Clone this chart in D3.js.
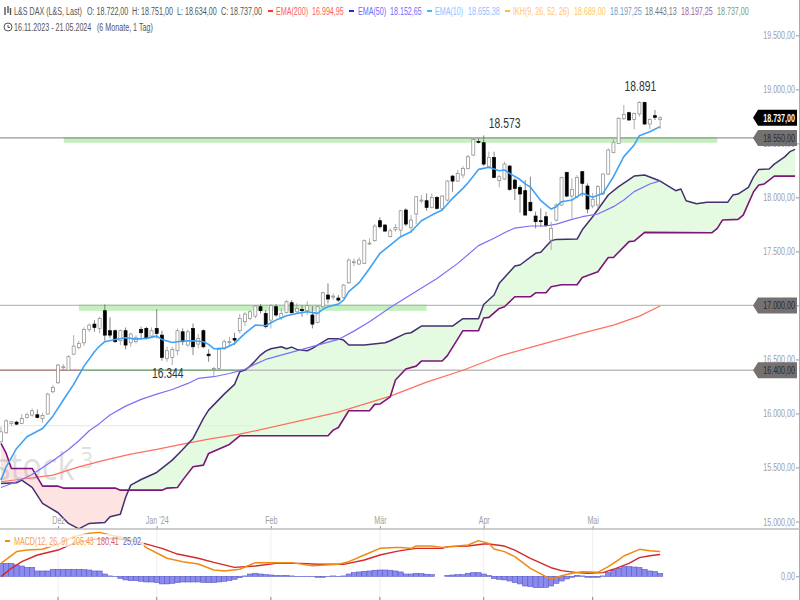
<!DOCTYPE html>
<html>
<head>
<meta charset="utf-8">
<script src="https://cdnjs.cloudflare.com/ajax/libs/d3/7.8.5/d3.min.js"></script>
<style>
    html, body { margin: 0; padding: 0; background: #fff; }
    svg { display: block; }
    text { font-family: "Liberation Sans", Arial, sans-serif; }
</style>
</head>
<body>
<svg id="chart"></svg>
<script>
// daily candles, bar 0 = 16.11.2023, bar 127 = 21.05.2024
const opens = [
    15738,15821,15908,15920,15908,15963,15985,15988,15954,15994,
    16201,16284,16426,16401,16549,16611,16654,16778,16827,16787,
    16951,16766,16766,16673,16766,16654,16664,16778,16787,16716,
    16787,16725,16509,16519,16580,16756,16633,16787,16642,16766,
    16549,16407,16417,16602,16658,16695,16766,16849,16880,16901,
    16988,16926,16864,16988,16889,16935,17025,16941,16963,16951,
    16911,16843,16988,17096,17083,17068,17074,17210,17398,17383,
    17389,17571,17599,17784,17744,17636,17704,17697,17883,17722,
    17846,17969,17969,17907,18000,17898,17975,18197,18151,18207,
    18268,18392,18518,18506,18284,18370,18154,18170,18290,18160,
    18092,18062,17954,17827,17784,17821,17605,17790,17929,18229,
    18012,18006,18238,18105,17920,17929,18031,18216,18414,18500,
    18728,18784,18722,18772,18877,18679,18756,18722];
const closes = [
    15830,15932,15923,15901,15954,15988,16025,15963,15982,16179,
    16241,16448,16432,16525,16624,16648,16778,16818,16796,16880,
    16725,16725,16664,16766,16633,16735,16701,16747,16695,16766,
    16741,16519,16580,16593,16766,16664,16756,16617,16695,16617,
    16534,16417,16593,16664,16664,16679,16880,16920,16941,16994,
    16951,16803,16997,16911,16926,17034,16932,16972,16951,16997,
    16827,16988,17117,17059,17086,17049,17188,17420,17404,17420,
    17599,17577,17734,17728,17688,17691,17722,17876,17753,17790,
    18006,17975,17907,18000,17898,18012,18151,18151,18222,18268,
    18376,18537,18512,18308,18370,18185,18191,18308,18074,18083,
    18031,17836,17877,17775,17775,17744,17713,17929,18185,18012,
    18074,18185,18130,17892,17982,18099,18216,18438,18506,18732,
    18769,18716,18778,18880,18679,18722,18741,18737];
const highs = [
    15877,15945,15932,15932,15994,16006,16046,16037,16006,16192,
    16262,16457,16457,16540,16725,16673,16796,16833,16864,16895,
    17009,16889,16778,16778,16796,16747,16725,16803,16803,16796,
    16966,16766,16617,16617,16787,16787,16778,16833,16735,16778,
    16593,16432,16611,16685,16710,16747,16920,16941,16957,17003,
    17012,16957,17012,17012,16972,17049,17049,17019,17003,17040,
    16994,17003,17127,17204,17111,17096,17198,17435,17435,17444,
    17611,17620,17753,17815,17753,17713,17753,17883,17898,17836,
    18012,18021,18037,18037,18012,18021,18160,18207,18253,18290,
    18392,18546,18546,18573,18423,18423,18207,18330,18299,18176,
    18114,18160,18191,17867,17898,17867,17775,17945,18191,18238,
    18176,18207,18244,18130,18040,18114,18222,18454,18537,18741,
    18855,18793,18784,18891,18886,18732,18809,18751];
const lows = [
    15730,15815,15883,15892,15901,15954,15969,15954,15914,15990,
    16185,16272,16401,16395,16540,16593,16624,16756,16756,16741,
    16673,16695,16654,16633,16593,16617,16648,16695,16685,16704,
    16695,16488,16479,16448,16540,16633,16617,16540,16602,16602,
    16479,16344,16407,16587,16617,16633,16741,16809,16864,16880,
    16926,16787,16787,16895,16864,16926,16926,16926,16895,16911,
    16787,16833,16972,17019,17049,17034,17065,17198,17364,17373,
    17383,17559,17589,17713,17682,17630,17682,17630,17734,17673,
    17753,17944,17876,17898,17889,17876,17960,18052,18145,18176,
    18259,18382,18500,18290,18268,18176,18092,18160,18062,17975,
    17858,17836,17867,17713,17729,17729,17513,17775,17920,18000,
    17806,17991,18006,17852,17900,17898,18022,18207,18407,18494,
    18716,18710,18630,18747,18670,18630,18716,18634];

// indicators as [bar, value]
const ema10 = [[0,15383],[1,15506],[3,15676],[5,15784],[8,15861],[10,15975],[12,16124],[14,16269],[16,16438],[18,16571],
    [19,16624],[20,16664],[22,16685],[24,16701],[26,16688],[28,16695],[30,16716],[31,16685],[33,16657],[35,16670],
    [37,16673],[39,16664],[40,16639],[41,16599],[43,16602],[45,16648],[47,16741],[49,16818],[51,16812],[52,16840],
    [53,16864],[55,16904],[57,16926],[59,16941],[61,16926],[62,16963],[63,16988],[65,17012],[66,17049],[67,17127],
    [69,17210],[71,17342],[73,17481],[75,17559],[77,17636],[79,17682],[81,17784],[83,17836],[85,17883],[87,17991],
    [89,18083],[90,18136],[92,18259],[93,18268],[94,18278],[95,18262],[96,18247],[97,18253],[98,18222],[100,18165],
    [101,18125],[102,18095],[104,17969],[106,17892],[107,17914],[108,17960],[110,17975],[112,18037],[114,18000],
    [116,18037],[118,18191],[120,18377],[122,18485],[123,18571],[125,18608],[127,18655]];
const ema50 = [[0,15315],[3,15368],[6,15435],[10,15562],[13,15667],[15,15747],[17,15840],[19,15908],[21,15985],[24,16068],
    [27,16130],[30,16179],[33,16222],[36,16278],[38,16324],[41,16340],[44,16370],[47,16408],[49,16457],[51,16500],
    [65,16685],[68,16762],[71,16849],[75,16981],[78,17071],[84,17250],[88,17389],[92,17553],[95,17621],[97,17673],
    [99,17716],[102,17735],[105,17735],[107,17753],[110,17796],[112,17821],[115,17846],[118,17914],[120,17975],
    [122,18053],[125,18124],[127,18153]];
const ema200 = [[0,15368],[5,15398],[10,15429],[15,15506],[20,15568],[25,15624],[30,15667],[35,15716],[40,15763],[46,15809],
    [52,15871],[65,16012],[75,16160],[82,16290],[89,16400],[96,16530],[105,16651],[112,16744],[118,16818],[123,16901],[127,16995]];
const senkouA = [[0,15352],[3,15358],[4,15383],[6,15315],[8,15167],[11,15081],[13,14982],[15,14932],[17,14982],[20,14991],
    [21,15044],[23,15068],[24,15222],[25,15337],[27,15389],[30,15454],[33,15568],[35,15667],[37,15769],[39,15954],
    [40,16031],[43,16179],[45,16269],[46,16386],[47,16401],[48,16438],[49,16488],[50,16540],[51,16577],[52,16599],
    [54,16617],[55,16599],[56,16614],[57,16593],[59,16580],[60,16602],[61,16633],[63,16691],[65,16691],[66,16679],
    [67,16633],[70,16633],[74,16654],[75,16673],[78,16741],[79,16747],[81,16809],[87,16809],[89,16877],[92,16877],
    [93,17009],[95,17096],[96,17204],[99,17364],[100,17374],[103,17482],[104,17491],[106,17599],[107,17611],[111,17614],
    [112,17700],[114,17821],[117,18022],[119,18099],[122,18197],[124,18207],[127,18151],[130,18062],[131,18077],
    [132,17969],[134,17941],[136,17954],[140,17954],[141,18021],[142,18031],[144,18092],[145,18190],[146,18259],
    [148,18262],[149,18308],[151,18375],[152,18423],[153,18444]];
const senkouB = [[0,15722],[1,15630],[2,15491],[6,15491],[8,15327],[11,15327],[12,15309],[22,15309],[23,15290],[31,15290],
    [32,15309],[34,15315],[35,15383],[37,15506],[39,15522],[40,15630],[41,15651],[44,15713],[46,15793],[63,15793],
    [64,15846],[65,15870],[67,16025],[71,16025],[72,16084],[73,16087],[75,16154],[76,16309],[78,16411],[80,16438],
    [81,16485],[85,16485],[86,16535],[89,16766],[92,16766],[93,16883],[94,16889],[96,16972],[97,16988],[99,17080],
    [102,17080],[103,17117],[105,17117],[106,17173],[108,17191],[111,17191],[112,17259],[115,17312],[117,17444],
    [118,17444],[121,17590],[122,17596],[124,17676],[137,17673],[138,17713],[139,17790],[142,17796],[143,17836],
    [144,17944],[145,18052],[146,18114],[147,18123],[149,18197],[153,18197]];
const cloudCross = 24.6;

const macdLine = [[0,107],[3,204],[5,217],[8,223],[11,267],[14,328],[17,355],[19,363],[21,341],[26,300],[28,237],[32,149],
    [35,121],[38,102],[41,52],[43,44],[46,58],[49,113],[53,113],[56,113],[60,88],[65,99],[67,121],[70,176],[73,231],[76,237],
    [77,239],[79,231],[80,250],[83,250],[85,239],[90,259],[92,295],[94,272],[95,226],[97,204],[99,162],[102,66],[105,-3],
    [106,-25],[108,5],[110,25],[112,38],[115,33],[117,80],[119,135],[120,168],[123,223],[125,212],[127,205]];
const signalLine = [[0,-3],[2,66],[4,121],[7,176],[11,217],[14,272],[18,306],[22,314],[27,278],[31,231],[34,184],[38,149],
    [41,115],[45,74],[49,85],[53,107],[58,107],[61,99],[66,99],[70,135],[73,176],[76,204],[77,212],[80,231],[85,231],[86,245],
    [90,250],[93,267],[94,267],[97,250],[99,217],[102,149],[106,71],[108,47],[111,30],[113,25],[116,30],[118,58],[121,107],
    [123,154],[125,170],[127,180]];
const macdHist = [107,107,107,94,85,74,74,44,44,44,58,58,58,58,58,58,55,52,44,44,
    19,3,-3,-17,-30,-36,-36,-41,-47,-47,-52,-63,-63,-58,-52,-47,-47,-47,-47,-50,
    -52,-52,-47,-41,-36,-25,-11,3,19,25,19,14,11,8,6,8,3,-3,-3,-3,
    -3,-8,-8,-3,3,-3,3,19,30,36,41,44,50,52,52,50,44,36,19,19,
    25,22,17,14,0,0,8,11,14,14,25,30,30,19,6,-19,-25,-30,-39,-52,
    -63,-80,-85,-94,-94,-91,-80,-58,-39,-22,-8,8,3,-8,-8,-8,3,30,52,66,
    80,80,77,74,58,44,39,25];

const priceTicks = [15000,15500,16000,16500,17000,17500,18000,18500,19000,19500];
const monthBars = [11,30,52,73,93,114];
const monthNames = ["Dez","Jan '24","Feb","Mär","Apr","Mai"];
const levels = [18550,17000,16400];
const lastPrice = 18737;
const peakBars = [41,93,123];
const peakVals = [16344,18573,18891];

const width = 800, height = 600;
const dim = { mainBottom: 529, lastBar: 153 };
const squeezeX = 0.65; // the reference text is condensed horizontally

const deFormat = d3.formatLocale({ decimal: ",", thousands: ".", grouping: [3], currency: ["", ""] });
const fmtPrice = deFormat.format(",.2f");
const fmtPeak = deFormat.format(",.0f");

const x = d3.scaleLinear().domain([0, dim.lastBar]).range([1, 795.1]);
const y = d3.scaleLinear().domain([15000, 19500]).range([521.5, 35.3]);
const yMacd = d3.scaleLinear().domain([0, 300]).range([576.3, 540]);
const step = x(1) - x(0);

const svg = d3.select("#chart").attr("width", width).attr("height", height);

function squeeze(sel, sx) {
    const s = sx || squeezeX;
    sel.each(function() {
        const t = d3.select(this);
        t.attr("x", (+t.attr("x") || 0) / s).attr("transform", "scale(" + s + ",1)");
    });
    return sel;
}

const defs = svg.append("defs");
defs.append("clipPath").attr("id", "mainClip")
    .append("rect").attr("width", width).attr("height", dim.mainBottom);
defs.append("clipPath").attr("id", "cloudRed").append("rect")
    .attr("width", x(cloudCross)).attr("height", dim.mainBottom);
defs.append("clipPath").attr("id", "cloudGreen").append("rect")
    .attr("x", x(cloudCross)).attr("width", width).attr("height", dim.mainBottom);

const main = svg.append("g").attr("clip-path", "url(#mainClip)");

// support bands under the levels
function band(fromBar, toBar, top, bottom, color) {
    main.append("rect")
        .attr("x", x(fromBar)).attr("width", x(toBar) - x(fromBar))
        .attr("y", y(top)).attr("height", y(bottom) - y(top))
        .attr("fill", color);
}
band(12.1, 138, 18550, 18505, "#c6efc0");
band(15, 82, 17000, 16950, "#c6efc0");

// cloud
const lineGen = d3.line().x(d => x(d[0])).y(d => y(d[1]));
const cloudOutline = lineGen(senkouA.concat(senkouB.slice().reverse())) + "Z";
main.append("path").attr("d", cloudOutline).attr("fill", "#fde3e1").attr("clip-path", "url(#cloudRed)");
main.append("path").attr("d", cloudOutline).attr("fill", "#e4fbe2").attr("clip-path", "url(#cloudGreen)");

// watermark sits above the cloud fill
const markG = main.append("g").attr("fill", "#999").attr("opacity", 0.3).style("font-family", "'Open Sans'");
squeeze(markG.append("text").attr("x", -5).attr("y", 480).style("font-family", "'Open Sans'").style("font-size", "38px").text("stock"), 0.86);
markG.append("text").attr("x", 81).attr("y", 468).style("font-family", "'Open Sans'").style("font-size", "21px").text("3");
markG.append("rect").attr("x", 82).attr("y", 447).attr("width", 9).attr("height", 2);

// horizontal levels
const levelX = 758;
levels.forEach(l => {
    main.append("line").attr("x1", 0).attr("x2", levelX).attr("y1", y(l)).attr("y2", y(l))
        .attr("stroke", l === 18550 ? "#999" : "#bcbcbc").attr("stroke-width", 1.3);
});
main.append("line").attr("x1", 0).attr("x2", x(15)).attr("y1", y(16400)).attr("y2", y(16400))
    .attr("stroke", "#b58a8a").attr("stroke-width", 1.3);
main.append("line").attr("x1", x(15)).attr("x2", x(47)).attr("y1", y(16400)).attr("y2", y(16400))
    .attr("stroke", "#82ad82").attr("stroke-width", 1.6);
main.append("line").attr("x1", 0).attr("x2", x(49)).attr("y1", y(15886)).attr("y2", y(15886))
    .attr("stroke", "#dcefdc").attr("stroke-width", 1);
main.append("line").attr("x1", x(12.1)).attr("x2", x(138)).attr("y1", y(18550)).attr("y2", y(18550))
    .attr("stroke", "#8fb98a").attr("stroke-width", 1.3);
main.append("line").attr("x1", x(15)).attr("x2", x(82)).attr("y1", y(17000)).attr("y2", y(17000))
    .attr("stroke", "#9fca9a").attr("stroke-width", 1.3);

// slow lines go under the candles
function drawLine(parent, data, color, w, gen) {
    parent.append("path").attr("d", (gen || lineGen)(data))
        .attr("fill", "none").attr("stroke", color).attr("stroke-width", w)
        .attr("stroke-linejoin", "round");
}
drawLine(main, ema200, "#ff6f5e", 1.2);
drawLine(main, senkouB, "#7d1578", 1.6);
drawLine(main, senkouA, "#43306f", 1.5);
drawLine(main, ema50, "#7c6ff5", 1.2);

// candles
const bars = d3.range(opens.length);
const candles = main.append("g").selectAll("g").data(bars).join("g");
candles.append("line")
    .attr("x1", i => x(i)).attr("x2", i => x(i))
    .attr("y1", i => y(highs[i])).attr("y2", i => y(lows[i]))
    .attr("stroke", i => closes[i] < opens[i] ? "#666" : "#999").attr("stroke-width", 0.8);
candles.append("rect")
    .attr("x", i => x(i) - 1.5).attr("width", 3)
    .attr("y", i => y(Math.max(opens[i], closes[i])))
    .attr("height", i => Math.max(1, Math.abs(y(opens[i]) - y(closes[i]))))
    .attr("fill", i => closes[i] < opens[i] ? "#000" : "#fff")
    .attr("stroke", i => closes[i] < opens[i] ? "#000" : "#888").attr("stroke-width", 0.7);

drawLine(main, ema10, "#3fa2f7", 1.6);

// peak and low labels
const peakDx = [-46, 21, 1];
const peakDy = [2, -7, -10];
squeeze(main.selectAll("text.peak").data(peakBars).join("text").attr("class", "peak")
    .attr("x", (b, i) => x(b) + peakDx[i])
    .attr("y", (b, i) => y(peakVals[i]) + peakDy[i])
    .attr("text-anchor", "middle").attr("fill", "#333").style("font-size", "14px")
    .text((b, i) => fmtPeak(peakVals[i])), 0.74);

// price axis on the right
const priceAxis = d3.axisLeft(y).tickValues(priceTicks).tickFormat(fmtPrice).tickSize(3).tickPadding(1);
const priceG = svg.append("g").attr("transform", "translate(799,0)").call(priceAxis);
priceG.select(".domain").remove();
priceG.selectAll("line").attr("stroke", "#999");
squeeze(priceG.selectAll("text").attr("fill", "#a0a0a0").style("font-size", "11px"));

const macdAxis = d3.axisLeft(yMacd).tickValues([0]).tickFormat(fmtPrice).tickSize(3).tickPadding(1);
const macdG = svg.append("g").attr("transform", "translate(799,0)").call(macdAxis);
macdG.select(".domain").remove();
macdG.selectAll("line").attr("stroke", "#999");
squeeze(macdG.selectAll("text").attr("fill", "#a0a0a0").style("font-size", "11px"));

svg.append("line").attr("x1", 799.5).attr("x2", 799.5).attr("y1", 0).attr("y2", height).attr("stroke", "#aaa");

// level tags
function tag(value, fill, textFill, weight) {
    const c = y(value), h = 8;
    svg.append("path")
        .attr("d", d3.line()([[753, c], [758, c - h], [797, c - h], [797, c + h], [758, c + h]]) + "Z")
        .attr("fill", fill);
    squeeze(svg.append("text").attr("x", 795).attr("y", c + 4).attr("text-anchor", "end")
        .attr("fill", textFill).style("font-size", "11px").style("font-weight", weight).text(fmtPrice(value)));
}
levels.forEach(l => tag(l, "#757170", "#2a2a2a", "normal"));
tag(lastPrice, "#000", "#fff", "bold");

// time axis and separator
const monthFormat = (d, i) => monthNames[i];
const monthAxis = d3.axisTop(x).tickValues(monthBars).tickFormat(monthFormat).tickSize(3).tickPadding(2);
const monthG = svg.append("g").attr("transform", "translate(0," + dim.mainBottom + ")").call(monthAxis);
monthG.select(".domain").remove();
monthG.selectAll("line").attr("stroke", "#999");
squeeze(monthG.selectAll("text").attr("fill", "#a0a0a0").style("font-size", "11px"));

svg.append("line").attr("x1", 0).attr("x2", width).attr("y1", dim.mainBottom).attr("y2", dim.mainBottom)
    .attr("stroke", "#bdbdbd").attr("stroke-width", 1.4);

// macd pane
const macdPane = svg.append("g");
macdPane.selectAll("line.grid").data(monthBars).join("line").attr("class", "grid")
    .attr("x1", d => x(d)).attr("x2", d => x(d)).attr("y1", 530).attr("y2", 600)
    .attr("stroke", "#eee");
macdPane.selectAll("line.tick").data(monthBars).join("line").attr("class", "tick")
    .attr("x1", d => x(d)).attr("x2", d => x(d)).attr("y1", 597).attr("y2", 600)
    .attr("stroke", "#888");
macdPane.selectAll("rect").data(macdHist).join("rect")
    .attr("x", (d, i) => x(i) - step / 2).attr("width", step)
    .attr("y", d => Math.min(yMacd(d), yMacd(0)))
    .attr("height", d => Math.abs(yMacd(d) - yMacd(0)))
    .attr("fill", "#8b8bee").attr("stroke", "#5a5ac8").attr("stroke-width", 0.6);
const macdGen = d3.line().x(d => x(d[0])).y(d => yMacd(d[1]));
drawLine(macdPane, signalLine, "#d4282a", 1.4, macdGen);
drawLine(macdPane, macdLine, "#f08a10", 1.5, macdGen);

macdPane.append("rect").attr("x", 0).attr("y", 534).attr("width", 144).attr("height", 13)
    .attr("fill", "#fff").attr("opacity", 0.72);

// header and pane legends as runs of text
function legendRun(items, baseY, size) {
    items.forEach(it => {
        squeeze(svg.append("text").attr("x", it[0]).attr("y", baseY).attr("fill", it[2])
            .style("font-size", size).text(it[1]));
    });
}
const headerGrey = "#555";
legendRun([
    [14, "L&S DAX (L&S, Last)", headerGrey],
    [87, "O: 18.722,00", headerGrey], [132, "H: 18.751,00", headerGrey],
    [177, "L: 18.634,00", headerGrey], [221, "C: 18.737,00", headerGrey],
    [276, "EMA(200)", "#ff5c5c"], [312, "16.994,95", "#ff5c5c"],
    [358, "EMA(50)", "#6a6aff"], [390, "18.152,65", "#6a6aff"],
    [435, "EMA(10)", "#8fc0ff"], [468, "18.655,38", "#8fc0ff"],
    [513, "IKH(9, 26, 52, 26)", "#ffc766"], [574, "18.689,00", "#ffc766"],
    [610, "18.197,25", "#6aa0cc"], [645, "18.443,13", "#777"],
    [681, "18.197,25", "#a0648f"], [717, "18.737,00", "#7a9a7a"]
], 15, "11px");
legendRun([
    [14, "16.11.2023 - 21.05.2024", headerGrey], [97, "(6 Monate, 1 Tag)", headerGrey]
], 31, "11px");
legendRun([
    [14, "MACD(12, 26, 9)", "#f2a04e"], [72, "205,43", "#f2a04e"],
    [97, "180,41", "#d76060"], [123, "25,02", "#6060c4"]
], 545, "11px");

[[268, "#f33"], [349, "#22f"], [427, "#4ab0ff"], [505, "#ffc020"]].forEach(d => {
    svg.append("rect").attr("x", d[0]).attr("y", 10).attr("width", 5).attr("height", 2).attr("fill", d[1]);
});
svg.append("rect").attr("x", 5).attr("y", 540).attr("width", 5).attr("height", 2).attr("fill", "#f08a10");

// small glyphs in front of the header lines
const glyphs = svg.append("g").attr("stroke", "#555").attr("fill", "none");
glyphs.append("path").attr("d", "M5 7V15M8 6V13M10.5 8V15").attr("stroke-width", 1.4);
glyphs.append("circle").attr("cx", 8).attr("cy", 27).attr("r", 4);
glyphs.append("path").attr("d", "M8 25V27.5H10");
</script>
</body>
</html>
